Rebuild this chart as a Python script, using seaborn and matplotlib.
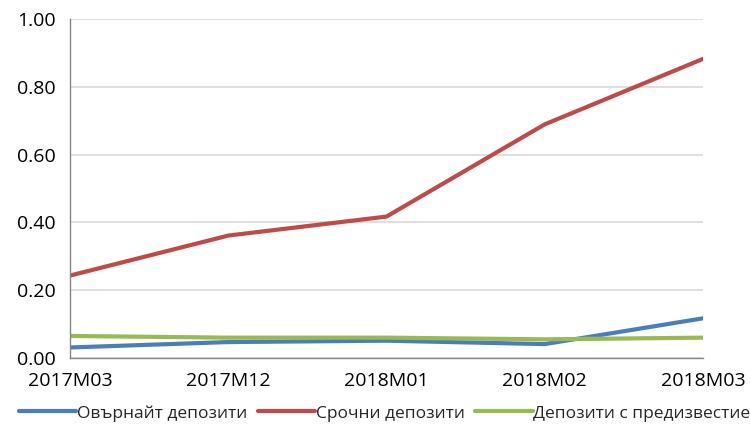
import matplotlib
matplotlib.use("Agg")
import matplotlib.pyplot as plt
import seaborn as sns
import pandas as pd

periods = ["2017M03", "2017M12", "2018M01", "2018M02", "2018M03"]
overnight = [0.031, 0.047, 0.051, 0.041, 0.117]
term = [0.243, 0.361, 0.417, 0.689, 0.882]
notice = [0.065, 0.060, 0.060, 0.055, 0.060]
series_names = ["Овърнайт депозити", "Срочни депозити", "Депозити с предизвестие"]
colors = ["#4A7EBB", "#BE4B48", "#98B954"]
y_ticks = [0.0, 0.2, 0.4, 0.6, 0.8, 1.0]

df = pd.DataFrame({
    "period": periods * 3,
    "value": overnight + term + notice,
    "series": [series_names[0]] * 5 + [series_names[1]] * 5 + [series_names[2]] * 5,
})

sns.set_theme(style="white")
plt.rcParams["font.family"] = ["Open Sans", "DejaVu Sans"]

fig = plt.figure(figsize=(7.5, 4.32), dpi=100)
ax = fig.add_axes([0.0933, 0.1713, 0.844, 0.785])

sns.lineplot(data=df, x="period", y="value", hue="series",
             palette=dict(zip(series_names, colors)), linewidth=3.0,
             sort=False, ax=ax, legend=True)

ax.set_xlim(0, len(periods) - 1)
ax.set_ylim(0, 1.0)
ax.set_yticks(y_ticks)
ax.set_yticklabels([f"{v:.2f}" for v in y_ticks])
ax.set_xticks(range(len(periods)))
ax.set_xticklabels(periods)
ax.set_xlabel("")
ax.set_ylabel("")

ax.grid(axis="y", color="#D9D9D9", linewidth=1.2)
ax.grid(axis="x", visible=False)
ax.set_axisbelow(True)
for side in ["top", "right"]:
    ax.spines[side].set_visible(False)
for side in ["left", "bottom"]:
    ax.spines[side].set_color("#868686")
    ax.spines[side].set_linewidth(1.0)
ax.tick_params(axis="both", which="major", direction="out", length=5,
               width=1.0, color="#868686", labelsize=14, labelcolor="#000000")
ax.tick_params(axis="y", pad=5)
ax.tick_params(axis="x", pad=5)

handles, labels = ax.get_legend_handles_labels()
ax.get_legend().remove()
fig.legend(handles, labels, loc="lower center", bbox_to_anchor=(0.513, -0.012),
           ncol=3, frameon=False, fontsize=12.5, handlelength=3.3,
           handletextpad=0.05, columnspacing=0.6)

fig.savefig("out.png", dpi=100)
